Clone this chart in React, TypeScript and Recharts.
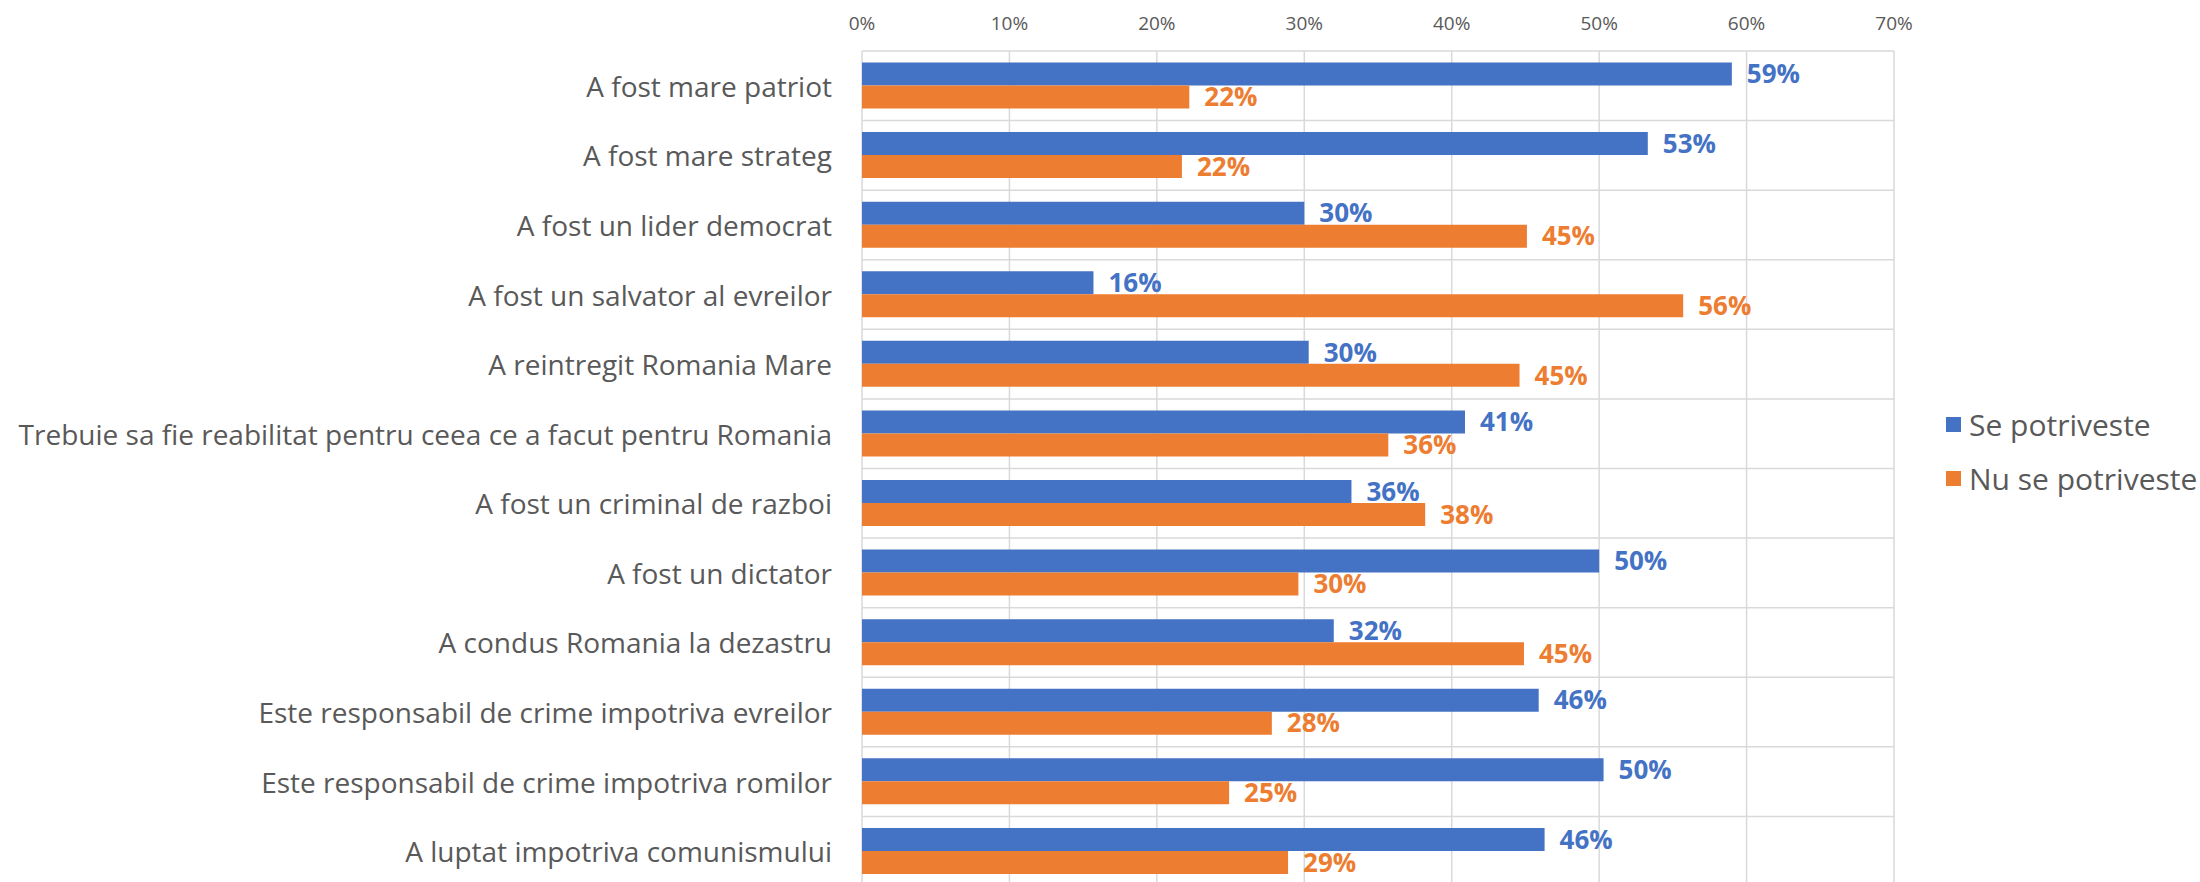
import React from 'react';
import { BarChart, Bar, XAxis, YAxis, CartesianGrid, LabelList, Legend } from 'recharts';

const categories = [
  'A fost mare patriot',
  'A fost mare strateg',
  'A fost un lider democrat',
  'A fost un salvator al evreilor',
  'A reintregit Romania Mare',
  'Trebuie sa fie reabilitat pentru ceea ce a facut pentru Romania',
  'A fost un criminal de razboi',
  'A fost un dictator',
  'A condus Romania la dezastru',
  'Este responsabil de crime impotriva evreilor',
  'Este responsabil de crime impotriva romilor',
  'A luptat impotriva comunismului',
];

// bar lengths (percent)
const sePotriveste = [59, 53.3, 30, 15.7, 30.3, 40.9, 33.2, 50, 32, 45.9, 50.3, 46.3];
const nuSePotriveste = [22.2, 21.7, 45.1, 55.7, 44.6, 35.7, 38.2, 29.6, 44.9, 27.8, 24.9, 28.9];

// data labels as printed in the picture
const seLabels = ['59%', '53%', '30%', '16%', '30%', '41%', '36%', '50%', '32%', '46%', '50%', '46%'];
const nuLabels = ['22%', '22%', '45%', '56%', '45%', '36%', '38%', '30%', '45%', '28%', '25%', '29%'];

const xTicks = [0, 10, 20, 30, 40, 50, 60, 70];
const seriesNames = ['Se potriveste', 'Nu se potriveste'];
const seriesColors = ['#4472C4', '#ED7D31'];

const data = categories.map((name, i) => ({
  name,
  se: sePotriveste[i],
  nu: nuSePotriveste[i],
  seLabel: seLabels[i],
  nuLabel: nuLabels[i],
}));

const FONT = "'Open Sans', sans-serif";
const TEXT = '#595959';

const YTick = (props: any) => {
  const { x, y, payload } = props;
  return (
    <text x={x} y={y} textAnchor="end" dominantBaseline="central" fill={TEXT} fontSize={28} fontFamily={FONT}>
      {payload.value}
    </text>
  );
};

const XTick = (props: any) => {
  const { x, y, payload } = props;
  return (
    <text x={x} y={y} textAnchor="middle" dominantBaseline="central" fill={TEXT} fontSize={19} fontFamily={FONT}>
      {`${payload.value}%`}
    </text>
  );
};

const LegendContent = () => (
  <div style={{ fontFamily: FONT }}>
    {seriesNames.map((n, i) => (
      <div key={n} style={{ display: 'flex', alignItems: 'center', height: 54 }}>
        <div style={{ width: 15, height: 15, background: seriesColors[i], marginRight: 8 }} />
        <span style={{ fontSize: 30, color: TEXT, whiteSpace: 'nowrap' }}>{n}</span>
      </div>
    ))}
  </div>
);

export default function App() {
  return (
    <div style={{ position: 'absolute', left: 0, top: 0, width: 2200, height: 882, overflow: 'hidden', background: '#fff' }}>
      <BarChart
        width={2200}
        height={886}
        data={data}
        layout="vertical"
        margin={{ top: 0, right: 306, bottom: 0, left: 0 }}
        barCategoryGap="16.5%"
        barGap={0}
      >
        <CartesianGrid
          stroke="#d9d9d9"
          strokeWidth={1.5}
          horizontalCoordinatesGenerator={({ offset }: any) =>
            categories.map((_, i) => offset.top + (i * offset.height) / categories.length).concat([offset.top + offset.height])
          }
        />
        <XAxis
          type="number"
          orientation="top"
          domain={[0, 70]}
          ticks={xTicks}
          height={51}
          axisLine={false}
          tickLine={false}
          tickSize={0}
          tickMargin={28}
          tick={<XTick />}
          interval={0}
        />
        <YAxis
          type="category"
          dataKey="name"
          width={862}
          axisLine={false}
          tickLine={false}
          tickSize={0}
          tickMargin={30}
          tick={<YTick />}
          interval={0}
        />
        <Legend
          layout="vertical"
          verticalAlign="middle"
          align="center"
          wrapperStyle={{ left: 1946, top: 397, width: 254 }}
          content={<LegendContent />}
        />
        <Bar dataKey="se" name={seriesNames[0]} fill={seriesColors[0]} isAnimationActive={false}>
          <LabelList dataKey="seLabel" position="right" offset={15} fill={seriesColors[0]} fontSize={26} fontWeight="bold" fontFamily={FONT} />
        </Bar>
        <Bar dataKey="nu" name={seriesNames[1]} fill={seriesColors[1]} isAnimationActive={false}>
          <LabelList dataKey="nuLabel" position="right" offset={15} fill={seriesColors[1]} fontSize={26} fontWeight="bold" fontFamily={FONT} />
        </Bar>
      </BarChart>
    </div>
  );
}
